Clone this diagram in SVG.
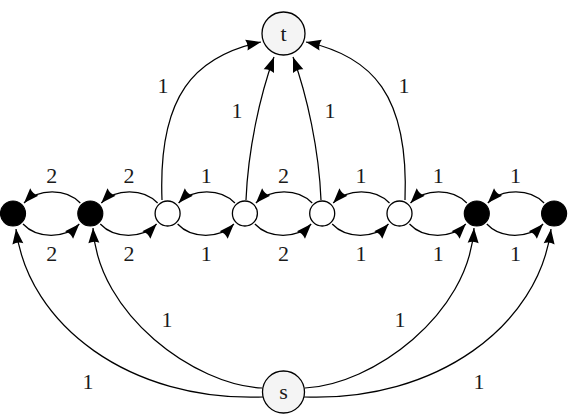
<svg xmlns="http://www.w3.org/2000/svg" width="571" height="417" viewBox="0 0 571 417">
<defs>
<marker id="arr" markerUnits="userSpaceOnUse" markerWidth="16" markerHeight="12" refX="15" refY="5.5" orient="auto" overflow="visible">
<path d="M0,0 L15,5.5 L0,11 Q2.5,5.5 0,0 z" fill="#000"/>
</marker>
<style>
.e{fill:none;stroke:#000;stroke-width:1.25;marker-end:url(#arr)}
.lbl{font-family:"Liberation Serif","DejaVu Serif",serif;font-size:22px;text-anchor:middle;fill:#1a1a1a}
.blk{fill:#000;stroke:#000;stroke-width:1.2}
.wht{fill:#fff;stroke:#000;stroke-width:1.3}
.big{fill:#f4f4f4;stroke:#000;stroke-width:1.3}
</style>
</defs>
<rect width="571" height="417" fill="#fff"/>
<g id="connectors">
<path class="e" d="M80.3,203 C66.3,188 38,188 24,203"/>
<path class="e" d="M23,224 C37,239 65.3,239 79.3,224"/>
<path class="e" d="M157.6,203 C143.6,188 115.3,188 101.3,203"/>
<path class="e" d="M100.3,224 C114.3,239 142.6,239 156.6,224"/>
<path class="e" d="M234.9,203 C220.9,188 192.6,188 178.6,203"/>
<path class="e" d="M177.6,224 C191.6,239 219.9,239 233.9,224"/>
<path class="e" d="M312.2,203 C298.2,188 269.9,188 255.9,203"/>
<path class="e" d="M254.9,224 C268.9,239 297.2,239 311.2,224"/>
<path class="e" d="M389.5,203 C375.5,188 347.2,188 333.2,203"/>
<path class="e" d="M332.2,224 C346.2,239 374.5,239 388.5,224"/>
<path class="e" d="M466.8,203 C452.8,188 424.5,188 410.5,203"/>
<path class="e" d="M409.5,224 C423.5,239 451.8,239 465.8,224"/>
<path class="e" d="M544.1,203 C530.1,188 501.8,188 487.8,203"/>
<path class="e" d="M486.8,224 C500.8,239 529.1,239 543.1,224"/>
<path class="e" d="M162,200 C158,95 195,56 261,42"/>
<path class="e" d="M246,200 C248,150 260,95 274,57"/>
<path class="e" d="M321,200 C319,150 307,95 293,57"/>
<path class="e" d="M405,200 C409,95 372,56 306,42"/>
<path class="e" d="M263,397 C130,402 28,325 16,229"/>
<path class="e" d="M262,388 C195,385 98,315 93,228"/>
<path class="e" d="M305,388 C372,385 469,315 474,228"/>
<path class="e" d="M304,397 C437,402 539,325 551,229"/>
</g>
<g id="labels">
<text class="lbl" x="51.7" y="183">2</text>
<text class="lbl" x="129" y="183">2</text>
<text class="lbl" x="206.3" y="183">1</text>
<text class="lbl" x="283.6" y="183">2</text>
<text class="lbl" x="360.9" y="183">1</text>
<text class="lbl" x="438.2" y="183">1</text>
<text class="lbl" x="515.5" y="183">1</text>
<text class="lbl" x="51.7" y="261">2</text>
<text class="lbl" x="129" y="261">2</text>
<text class="lbl" x="206.3" y="261">1</text>
<text class="lbl" x="283.6" y="261">2</text>
<text class="lbl" x="360.9" y="261">1</text>
<text class="lbl" x="438.2" y="261">1</text>
<text class="lbl" x="515.5" y="261">1</text>
<text class="lbl" x="163" y="92.5">1</text>
<text class="lbl" x="237" y="117.5">1</text>
<text class="lbl" x="330" y="117.5">1</text>
<text class="lbl" x="404" y="92.5">1</text>
<text class="lbl" x="167" y="326.5">1</text>
<text class="lbl" x="400" y="326.5">1</text>
<text class="lbl" x="88" y="388.5">1</text>
<text class="lbl" x="479" y="388.5">1</text>
</g>
<g id="t"><circle class="big" cx="283.5" cy="33.5" r="21.5"/><text class="lbl" x="283.5" y="41">t</text></g>
<g id="s"><circle class="big" cx="283.5" cy="392" r="21"/><text class="lbl" x="283.5" y="398.5">s</text></g>
<g id="b1"><circle class="blk" cx="13" cy="213.5" r="12.5"/></g>
<g id="b2"><circle class="blk" cx="90.3" cy="213.5" r="12.5"/></g>
<g id="w1"><circle class="wht" cx="167.6" cy="213.5" r="12.5"/></g>
<g id="w2"><circle class="wht" cx="244.9" cy="213.5" r="12.5"/></g>
<g id="w3"><circle class="wht" cx="322.2" cy="213.5" r="12.5"/></g>
<g id="w4"><circle class="wht" cx="399.5" cy="213.5" r="12.5"/></g>
<g id="b3"><circle class="blk" cx="476.8" cy="213.5" r="12.5"/></g>
<g id="b4"><circle class="blk" cx="554.1" cy="213.5" r="12.5"/></g>
</svg>
